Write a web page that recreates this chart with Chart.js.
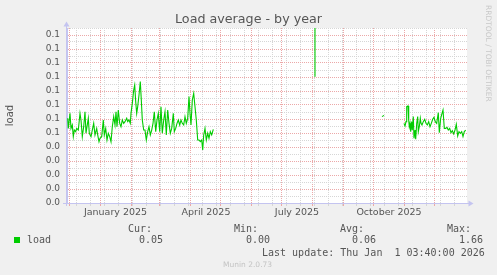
<!DOCTYPE html>
<html><head><meta charset="utf-8">
<script src="https://cdn.jsdelivr.net/npm/chart.js@4/dist/chart.umd.min.js"></script>
<style>html,body{margin:0;padding:0;background:#f0f0f0;}#wrap{width:497px;height:275px;position:relative;}</style>
</head><body><div id="wrap"><canvas id="c" width="497" height="275"></canvas></div>
<script>
// Days since start of the 400-day window (null load = no data)
const days = [
 0.7,1.3,3,4,5.3,6.3,7.3,8.7,9.7,11.3,
 13,14,15.3,16.7,18,19,20,21.3,22.3,24,
 25.3,26.7,28,29.7,30.7,32,33,34.7,36.3,37.3,
 38.7,40,41.3,42.7,44,45.3,46.7,48,49,50,
 51.3,52.7,54,55.3,56.7,58,59.7,60.7,62,63.3,
 64,65.3,66.7,67.7,68.7,69.7,70.7,72,73.3,74.3,
 75.3,76.7,78,79.3,80.7,82,83.3,84.7,86,87.3,
 88.7,90,91.3,92.7,94,95.3,96.7,98,99.3,100.7,
 102,103.3,104.7,106.3,107.3,108.7,110,111.3,112.7,114,
 115.3,116.7,118,119.3,120.7,122,123,124,125.3,126.7,
 128,129.3,130.7,132,133.3,134.7,135.7,136.7,138,139.3,
 140.7,142,143.3,144.7,146.3,
 200,
 247.5,248,
 280,
 315,317,
 330,
 337,338,339,339.7,341,341.7,342.3,343,343.7,344.7,
 345.3,346.3,347,348,348.7,349.7,350.7,351.3,352.3,353.3,
 354,355,356.3,357.7,359,360.3,361.7,363,364.3,365.7,
 367,368.3,369.7,371.3,372.3,373.7,375,376,377.3,378.7,
 380,381.3,382.7,384,385.3,386.7,388,389.3,390.7,392,
 393.3,394.7,396,397.3,398.7
];
const load = [
 0.0605,0.0533,0.0640,0.0533,0.0557,0.0474,0.0521,0.0510,0.0533,0.0521,
 0.0640,0.0593,0.0474,0.0545,0.0652,0.0498,0.0545,0.0605,0.0498,0.0474,
 0.0521,0.0569,0.0486,0.0533,0.0486,0.0438,0.0462,0.0474,0.0593,0.0486,
 0.0533,0.0450,0.0498,0.0474,0.0438,0.0545,0.0617,0.0557,0.0652,0.0545,
 0.0664,0.0569,0.0545,0.0593,0.0569,0.0581,0.0605,0.0581,0.0593,0.0569,
 0.0640,0.0712,0.0807,0.0843,0.0724,0.0640,0.0688,0.0771,0.0867,0.0736,
 0.0593,0.0521,0.0521,0.0450,0.0510,0.0545,0.0486,0.0521,0.0569,0.0652,
 0.0510,0.0593,0.0640,0.0510,0.0688,0.0498,0.0593,0.0652,0.0486,0.0664,
 0.0569,0.0498,0.0533,0.0640,0.0510,0.0533,0.0569,0.0593,0.0557,0.0593,
 0.0569,0.0557,0.0617,0.0569,0.0605,0.0760,0.0640,0.0557,0.0736,0.0783,
 0.0688,0.0593,0.0450,0.0450,0.0438,0.0450,0.0379,0.0486,0.0533,0.0450,
 0.0498,0.0462,0.0510,0.0486,0.0526,
 null,
 1.66,0.0902,
 null,
 0.0617,0.0626,
 null,
 0.0569,0.0550,0.0581,0.0688,0.0693,0.0593,0.0545,0.0569,0.0510,0.0581,
 0.0521,0.0617,0.0462,0.0521,0.0455,0.0569,0.0617,0.0510,0.0545,0.0605,
 0.0569,0.0557,0.0581,0.0598,0.0569,0.0557,0.0581,0.0545,0.0569,0.0598,
 0.0612,0.0581,0.0569,0.0645,0.0502,0.0605,0.0640,0.0664,0.0533,0.0533,
 0.0540,0.0521,0.0533,0.0502,0.0517,0.0493,0.0521,0.0562,0.0479,0.0510,
 0.0498,0.0510,0.0474,0.0510,0.0521
];
const monthStarts = [2,33,64,92,123,153,184,214,245,276,306,337,367];
const minorDays = [9,23,37,51,65,79,93,107,121,135,149,163,177,191,205,219,233,247,261,275,289,303,317,331,345,359,373,387];
const labelDays = [48.5,139,230,322];
const monthLabels = ['January 2025','April 2025','July 2025','October 2025'];
const yTickValues = [0,0.01,0.02,0.03,0.04,0.05,0.06,0.07,0.08,0.09,0.10,0.11,0.12];
const yTickLabels = ['0.0','0.0','0.0','0.0','0.0','0.1','0.1','0.1','0.1','0.1','0.1','0.1','0.1'];
const yMinorValues = [0.005,0.015,0.025,0.035,0.045,0.055,0.065,0.075,0.085,0.095,0.105,0.115,0.125];
const seriesName = 'load';
const statHeaders = ['Cur:','Min:','Avg:','Max:'];
const statValues = ['0.05','0.00','0.06','1.66'];
const lastUpdate = 'Last update: Thu Jan  1 03:40:00 2026';

const MAJOR = '#eca8a8';
const MINOR = '#d6d6d6';
const AXIS = '#c4c4f0';

const xTicks = [];
monthStarts.forEach(v => xTicks.push({value:v, kind:'major', label:''}));
minorDays.forEach(v => xTicks.push({value:v, kind:'minor', label:''}));
labelDays.forEach((v,i) => xTicks.push({value:v, kind:'label', label:monthLabels[i]}));
xTicks.sort((a,b) => a.value - b.value);

const yTicks = [];
yTickValues.forEach((v,i) => yTicks.push({value:v, kind:'major', label:yTickLabels[i]}));
yMinorValues.forEach(v => yTicks.push({value:v, kind:'minor', label:''}));
yTicks.sort((a,b) => a.value - b.value);

const points = days.map((d,i) => ({x:d, y:load[i]}));

const kindColor = (k) => k === 'major' ? MAJOR : (k === 'minor' ? MINOR : 'rgba(0,0,0,0)');

const decor = {
  id:'decor',
  beforeDraw(chart){
    const {ctx, chartArea:a} = chart;
    ctx.save();
    ctx.fillStyle = '#f0f0f0';
    ctx.fillRect(0,0,chart.width,chart.height);
    ctx.fillStyle = '#ffffff';
    ctx.fillRect(a.left, a.top, a.right-a.left, a.bottom-a.top);
    ctx.restore();
  },
  afterDraw(chart){
    const {ctx, chartArea:a} = chart;
    ctx.save();
    ctx.strokeStyle = AXIS; ctx.fillStyle = AXIS; ctx.lineWidth = 1;
    ctx.beginPath();
    ctx.moveTo(a.left-4, a.bottom+0.5); ctx.lineTo(a.right+2, a.bottom+0.5);
    ctx.moveTo(a.left-0.5, a.bottom+3); ctx.lineTo(a.left-0.5, a.top-2);
    ctx.stroke();
    ctx.beginPath();
    ctx.moveTo(a.right+1.5, a.bottom-2.5); ctx.lineTo(a.right+6.5, a.bottom+0.5); ctx.lineTo(a.right+1.5, a.bottom+3.5); ctx.closePath(); ctx.fill();
    ctx.beginPath();
    ctx.moveTo(a.left-3.5, a.top-1.5); ctx.lineTo(a.left-0.5, a.top-6.5); ctx.lineTo(a.left+2.5, a.top-1.5); ctx.closePath(); ctx.fill();
    ctx.fillStyle = '#c8c8c8';
    ctx.font = '7.5px "DejaVu Sans"';
    ctx.textBaseline = 'middle'; ctx.textAlign = 'left';
    ctx.save(); ctx.translate(488, 5); ctx.rotate(Math.PI/2); ctx.fillText('RRDTOOL / TOBI OETIKER', 0, 0); ctx.restore();
    ctx.textBaseline = 'alphabetic';
    ctx.font = '10px "DejaVu Sans Mono"';
    ctx.fillStyle = '#555';
    const hx = [128,234,340,447];
    statHeaders.forEach((t,i) => ctx.fillText(t, hx[i], 231.5));
    const vx = [139,246,352,459];
    statValues.forEach((t,i) => ctx.fillText(t, vx[i], 243.3));
    ctx.fillText(seriesName, 27, 243.3);
    ctx.fillText(lastUpdate, 262, 255.6);
    ctx.fillStyle = '#00cc00';
    ctx.fillRect(14, 237, 6, 6);
    ctx.fillStyle = '#c4c4c4';
    ctx.font = '7.5px "DejaVu Sans"';
    ctx.fillText('Munin 2.0.73', 223, 267);
    ctx.restore();
  }
};

new Chart(document.getElementById('c'), {
  type:'line',
  data:{datasets:[{data:points, borderColor:'#00cc00', borderWidth:1.1, pointRadius:0, tension:0, spanGaps:false, fill:false}]},
  options:{
    responsive:false, animation:false, devicePixelRatio:1,
    layout:{padding:{left:0,right:0,top:0,bottom:0}},
    plugins:{
      legend:{display:false}, tooltip:{enabled:false},
      title:{display:true, text:'Load average - by year', color:'#555',
        font:{family:'DejaVu Sans', size:12.7, weight:'normal', lineHeight:1.2},
        padding:{top:12,bottom:0.76}}
    },
    scales:{
      x:{type:'linear', min:0, max:400, bounds:'data',
        afterFit:s => { s.height = 72; },
        afterBuildTicks:s => { s.ticks = xTicks.map(t => ({value:t.value})); },
        ticks:{autoSkip:false, maxRotation:0, minRotation:0, padding:1, color:'#555',
          font:{family:'DejaVu Sans', size:9.5},
          callback:(v,i) => xTicks[i] ? xTicks[i].label : ''},
        grid:{lineWidth:1, drawTicks:true, tickLength:3,
          color:c => kindColor(xTicks[c.index] ? xTicks[c.index].kind : 'label'),
          tickColor:c => kindColor(xTicks[c.index] ? xTicks[c.index].kind : 'label')},
        border:{display:true, color:AXIS, dash:[1,1]}
      },
      y:{type:'linear', min:0, max:0.125, bounds:'data',
        afterFit:s => { s.width = 67; },
        afterBuildTicks:s => { s.ticks = yTicks.map(t => ({value:t.value})); },
        ticks:{autoSkip:false, padding:7, color:'#555',
          font:{family:'DejaVu Sans', size:9},
          callback:(v,i) => yTicks[i] ? yTicks[i].label : ''},
        grid:{lineWidth:1, drawTicks:false,
          color:c => kindColor(yTicks[c.index] ? yTicks[c.index].kind : 'label')},
        border:{display:true, color:AXIS, dash:[1,1]},
        title:{display:true, text:'load', color:'#555', font:{family:'DejaVu Sans', size:10}, padding:{top:4,bottom:0}}
      },
      yRight:{type:'linear', position:'right', min:0, max:1,
        afterFit:s => { s.width = 30; },
        ticks:{display:false}, grid:{display:false, drawOnChartArea:false}, border:{display:false}
      }
    }
  },
  plugins:[decor]
});
</script>
</body></html>
